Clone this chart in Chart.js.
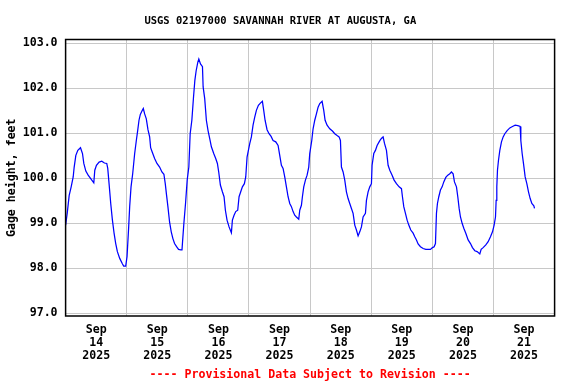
<!DOCTYPE html>
<html><head><meta charset="utf-8">
<script src="https://cdn.jsdelivr.net/npm/chart.js@4/dist/chart.umd.min.js"></script>
<style>html,body{margin:0;padding:0;background:#fff;}canvas{display:block;}</style>
</head><body>
<canvas id="c" width="576" height="384" style="width:576px;height:384px"></canvas>
<script>
const titleText = 'USGS 02197000 SAVANNAH RIVER AT AUGUSTA, GA';
const yAxisTitle = 'Gage height, feet';
const footerText = '---- Provisional Data Subject to Revision ----';

// hours since Sep 14 2025 00:00
const hours = [
0,0.63,1.41,2.19,2.98,3.37,4.02,4.80,5.85,6.63,7.15,7.94,8.85,10.15,11.07,11.46,12.11,13.16,14.20,15.24,16.16,16.55,17.07,17.72,18.38,19.03,19.68,20.33,21.25,22.29,22.81,23.60,24.12,24.77,25.16,25.69,26.34,
27.12,27.77,28.30,28.82,29.34,30.12,30.51,31.04,31.69,32.34,33.00,33.39,34.04,34.95,35.87,36.91,37.82,38.60,39.13,39.65,40.17,40.82,41.48,42.13,42.78,43.57,44.35,45.26,45.70,45.92,46.44,47.09,47.74,48.39,48.91,49.57,50.22,50.74,51.26,51.92,52.31,52.96,53.74,54.00,
54.62,55.27,55.93,56.59,57.24,58.16,58.94,59.60,60.12,60.77,61.56,62.21,62.74,63.39,64.18,65.09,65.49,66.14,66.80,67.58,68.11,68.76,69.42,70.20,70.73,71.25,71.77,72.30,72.95,73.60,74.26,74.91,75.70,76.48,77.27,77.79,78.32,79.10,79.89,80.68,81.46,
82.51,83.43,84.08,84.73,85.39,86.04,86.70,87.35,88.01,88.66,89.32,89.97,90.63,91.54,91.94,92.59,92.98,93.51,94.16,94.82,95.47,95.86,96.65,97.17,97.83,98.48,99.14,99.79,100.71,101.36,101.89,102.67,103.72,104.77,105.68,106.60,107.38,107.91,108.30,
108.96,109.61,110.26,110.92,111.57,112.23,112.88,113.54,114.19,114.85,115.50,116.16,116.81,117.73,118.12,118.77,119.43,120.08,120.34,121.00,121.65,122.31,123.09,123.62,124.27,124.67,125.19,125.98,126.63,127.29,128.20,128.99,129.90,130.95,131.87,132.26,132.78,133.44,134.09,134.75,135.53,
136.45,137.10,137.76,138.41,139.33,140.38,141.43,142.34,143.26,144.04,144.70,145.22,145.61,146.00,146.53,147.18,147.84,148.49,149.28,150.06,150.85,151.50,152.16,152.68,153.47,153.99,154.52,155.04,155.69,156.35,157.13,158.05,158.97,159.75,160.67,161.58,162.63,163.16,
163.94,164.99,165.91,166.82,167.61,168.26,168.79,169.05,169.31,169.57,169.97,170.49,171.14,171.80,172.45,173.37,174.42,175.46,176.51,177.56,178.47,178.74,179.26,179.78,180.44,181.10,181.75,182.41,183.06,183.85,184.11
];
// gage height, feet
const gageHeight = [
98.96,99.22,99.62,99.81,100.03,100.25,100.51,100.62,100.68,100.55,100.33,100.16,100.07,99.97,99.90,100.18,100.29,100.36,100.38,100.34,100.33,100.22,99.88,99.44,99.07,98.78,98.55,98.37,98.22,98.10,98.05,98.05,98.26,98.92,99.37,99.81,100.10,
100.55,100.84,101.06,101.29,101.42,101.51,101.55,101.43,101.32,101.08,100.92,100.68,100.58,100.44,100.33,100.25,100.14,100.09,99.88,99.62,99.37,99.03,98.81,98.66,98.55,98.48,98.42,98.41,98.41,98.59,99.00,99.44,99.96,100.25,100.99,101.29,101.80,102.17,102.39,102.58,102.65,102.54,102.48,102.03,
101.77,101.29,101.06,100.88,100.70,100.55,100.44,100.33,100.14,99.85,99.70,99.59,99.29,99.07,98.92,98.79,99.07,99.18,99.26,99.29,99.59,99.70,99.81,99.88,100.03,100.47,100.62,100.77,100.92,101.18,101.36,101.51,101.62,101.67,101.71,101.51,101.29,101.08,100.99,100.93,100.84,
100.81,100.73,100.51,100.29,100.22,100.03,99.81,99.59,99.44,99.37,99.26,99.18,99.14,99.09,99.29,99.40,99.59,99.81,99.96,100.07,100.25,100.55,100.84,101.10,101.29,101.43,101.58,101.66,101.71,101.51,101.29,101.18,101.10,101.05,100.99,100.95,100.92,100.84,100.25,
100.14,99.96,99.70,99.55,99.44,99.33,99.22,98.96,98.85,98.72,98.81,98.92,99.14,99.22,99.51,99.70,99.81,99.88,100.29,100.55,100.62,100.73,100.81,100.86,100.90,100.92,100.78,100.62,100.29,100.18,100.07,99.96,99.88,99.81,99.77,99.59,99.37,99.22,99.07,98.96,98.85,
98.78,98.70,98.63,98.54,98.48,98.44,98.42,98.42,98.42,98.46,98.48,98.55,99.22,99.44,99.59,99.74,99.81,99.92,100.02,100.07,100.10,100.14,100.10,99.92,99.81,99.59,99.33,99.14,99.00,98.89,98.78,98.63,98.55,98.46,98.39,98.37,98.32,98.42,
98.46,98.52,98.59,98.70,98.81,98.96,99.14,99.51,99.81,100.18,100.40,100.62,100.81,100.92,100.99,101.06,101.12,101.15,101.18,101.17,101.15,100.84,100.55,100.33,100.03,99.88,99.70,99.55,99.44,99.39,99.33
];

const yTicks = [97, 98, 99, 100, 101, 102, 103];
const gridHours = [0, 24, 48, 72, 96, 120, 144, 168, 192];
const dayTickHours = [12, 36, 60, 84, 108, 132, 156, 180];
const dayTickLabels = [
  ['Sep','14','2025'], ['Sep','15','2025'], ['Sep','16','2025'], ['Sep','17','2025'],
  ['Sep','18','2025'], ['Sep','19','2025'], ['Sep','20','2025'], ['Sep','21','2025']
];

const FONT = "'DejaVu Sans Mono', 'Liberation Mono', monospace";
const points = hours.map((h, i) => ({x: h, y: gageHeight[i]}));

const framePlugin = {
  id: 'frame',
  afterDatasetsDraw(chart) {
    const {ctx, chartArea: a} = chart;
    ctx.save();
    ctx.strokeStyle = '#000';
    ctx.lineWidth = 1.5;
    ctx.strokeRect(a.left, a.top, a.right - a.left, a.bottom - a.top);
    ctx.restore();
  }
};

new Chart(document.getElementById('c'), {
  type: 'line',
  data: { datasets: [{
    data: points, borderColor: '#0000ff', borderWidth: 1.25, pointRadius: 0,
    tension: 0, fill: false
  }]},
  options: {
    responsive: false, animation: false, devicePixelRatio: 1,
    layout: { padding: { left: 6, right: 21.4, top: 0, bottom: 0 } },
    plugins: {
      legend: { display: false },
      tooltip: { enabled: false },
      title: { display: true, text: titleText, color: '#000',
        font: { family: FONT, size: 10.5, weight: 'bold', lineHeight: 1.2 },
        padding: { top: 15.2, bottom: 11.7 } },
      subtitle: { display: true, text: footerText, position: 'bottom', fullSize: false, color: '#ff0000',
        font: { family: FONT, size: 11.6, weight: 'bold', lineHeight: 1.2 },
        padding: { top: 0, bottom: 2 } }
    },
    scales: {
      x: {
        type: 'linear', min: 0, max: 192,
        afterBuildTicks: (s) => { s.ticks = gridHours.concat(dayTickHours).sort((a,b)=>a-b).map(v => ({value: v})); },
        afterFit: (s) => { s.height = 52.08; },
        grid: { drawTicks: false, lineWidth: 1,
          color: (c) => (c.tick && gridHours.includes(c.tick.value)) ? '#c8c8c8' : 'rgba(0,0,0,0)' },
        border: { display: false },
        ticks: { autoSkip: false, maxRotation: 0, padding: 7.6, color: '#000',
          font: { family: FONT, size: 11.6, weight: 'bold', lineHeight: 1.1 },
          callback: (v) => { const i = dayTickHours.indexOf(v); return i >= 0 ? dayTickLabels[i] : ''; } }
      },
      y: {
        min: 96.94, max: 103.084,
        afterBuildTicks: (s) => { s.ticks = yTicks.map(v => ({value: v})); },
        afterFit: (s) => { s.width = 59.6; },
        grid: { drawTicks: false, color: '#c8c8c8', lineWidth: 1 },
        border: { display: false },
        ticks: { padding: 8, color: '#000',
          font: { family: FONT, size: 11.6, weight: 'bold' },
          callback: (v) => Number(v).toFixed(1) },
        title: { display: true, text: yAxisTitle, color: '#000',
          font: { family: FONT, size: 11.6, weight: 'bold', lineHeight: 1.2 },
          padding: { top: -1, bottom: 0 } }
      }
    }
  },
  plugins: [framePlugin]
});
</script>
</body></html>
